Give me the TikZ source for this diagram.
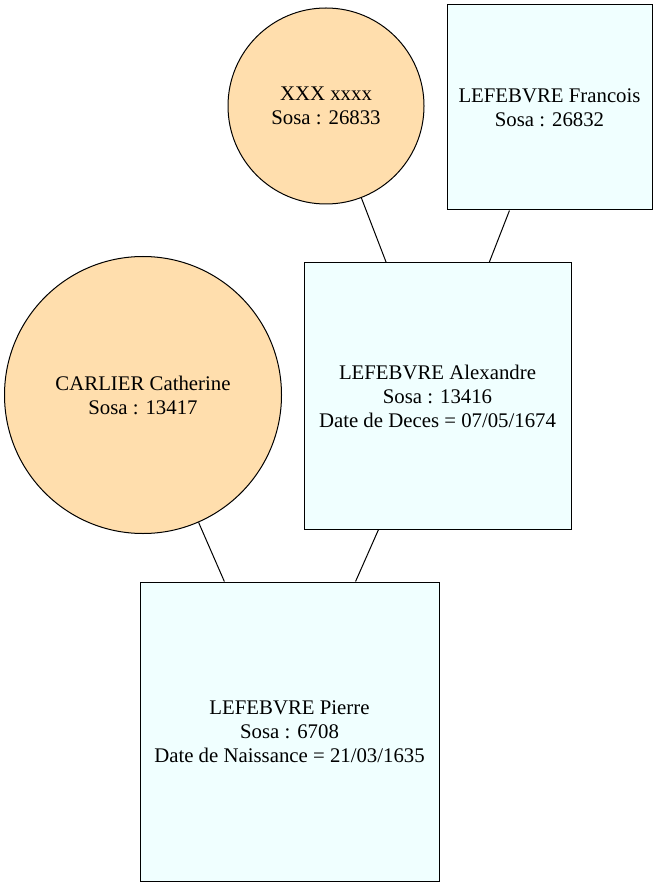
\documentclass[tikz,border=0pt]{standalone}
\usepackage{fontspec}
\setmainfont{Liberation Serif}
\usetikzlibrary{calc}

\begin{document}
\begin{tikzpicture} [x=0.75pt, y=-0.75pt, font=\fontsize{15.6}{18}\selectfont,
  femme/.style={circle, draw, fill=femmefill, align=center, line width=0.75pt, inner sep=0},
  homme/.style={rectangle, draw, fill=hommefill, align=center, line width=0.75pt, inner sep=0},
  lien/.style={black, line width=0.75pt}]
\definecolor{femmefill}{HTML}{FFDEAD}
\definecolor{hommefill}{HTML}{F0FFFF}
\useasboundingbox (0,0) rectangle (658,887);
\node[femme, minimum size=147pt] (xxx) at (326,106) {XXX xxxx\\Sosa : 26833};
\node[homme, minimum width=153.75pt, minimum height=153.75pt] (francois) at (549.5,107.5) {LEFEBVRE Francois\\Sosa : 26832};
\node[homme, minimum width=200.25pt, minimum height=199.5pt] (alexandre) at (437.5,396) {LEFEBVRE Alexandre\\Sosa : 13416\\Date de Deces = 07/05/1674};
\node[femme, minimum size=207.75pt] (carlier) at (143,395) {CARLIER Catherine\\Sosa : 13417};
\node[homme, minimum width=224.25pt, minimum height=224.25pt] (pierre) at (289.5,731.5) {LEFEBVRE Pierre\\Sosa : 6708\\Date de Naissance = 21/03/1635};
\draw[lien] (xxx) -- (alexandre);
\draw[lien] (francois) -- (alexandre);
\draw[lien] (carlier) -- (pierre);
\draw[lien] (alexandre) -- (pierre);
\end{tikzpicture}
\end{document}
